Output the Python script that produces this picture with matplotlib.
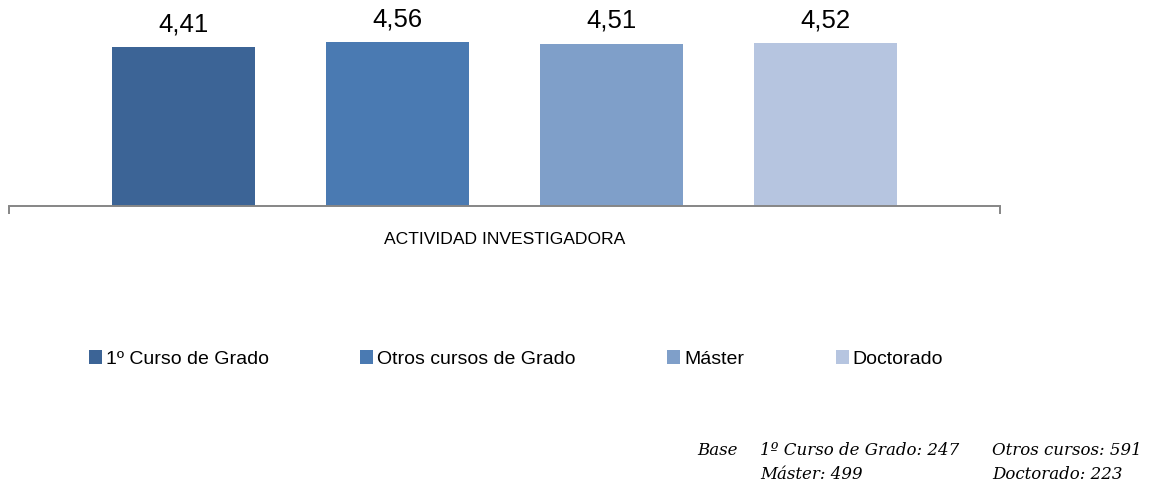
import matplotlib.pyplot as plt

# datos
grupos = ['1º Curso de Grado', 'Otros cursos de Grado', 'Máster', 'Doctorado']
valores = [4.41, 4.56, 4.51, 4.52]
colores = ['#3c6496', '#4a7ab2', '#7f9fc9', '#b6c5e0']
categoria = 'ACTIVIDAD INVESTIGADORA'
base_lineas = [['Base', '1º Curso de Grado: 247', 'Otros cursos: 591'],
               ['', 'Máster: 499', 'Doctorado: 223']]

fig = plt.figure(figsize=(11.56, 4.86), dpi=100)
ax = fig.add_axes([9 / 1156, 1 - 206 / 486, 991 / 1156, 198 / 486])

paso = 0.216
ancho = 0.1443
for i, (g, v, c) in enumerate(zip(grupos, valores, colores)):
    x = 0.5 + (i - 1.5) * paso
    ax.bar(x, v, width=ancho, color=c, label=g)
    ax.text(x, v + 0.3, f'{v:.2f}'.replace('.', ','), ha='center', va='bottom',
            fontsize=18.5, family='Liberation Sans', clip_on=False)

ax.set_xlim(0, 1)
ax.set_ylim(0, 5.5)
for s in ['top', 'right', 'left']:
    ax.spines[s].set_visible(False)
ax.spines['bottom'].set_color('#868686')
ax.spines['bottom'].set_linewidth(1.4)
ax.set_yticks([])
ax.set_xticks([0.5])
ax.set_xticklabels([categoria], family='Liberation Sans', fontsize=12.6)
ax.set_xticks([0, 1], minor=True)
ax.tick_params(axis='x', which='major', length=0, pad=18.5)
ax.tick_params(axis='x', which='minor', length=6, width=1.4, color='#868686', direction='out')

fig.legend(loc='center', bbox_to_anchor=(516 / 1156, 1 - 359 / 486), ncol=4,
           frameon=False, handlelength=0.67, handleheight=0.67, handletextpad=0.2,
           columnspacing=4.7, prop={'family': 'Liberation Sans', 'size': 14})

cols = [697, 760, 992]
for fila, y in zip(base_lineas, [450, 474]):
    for texto, x in zip(fila, cols):
        if texto:
            fig.text(x / 1156, 1 - y / 486, texto, ha='left', va='center',
                     family='DejaVu Serif', style='italic', fontsize=12)

fig.savefig('out.png', dpi=100)
